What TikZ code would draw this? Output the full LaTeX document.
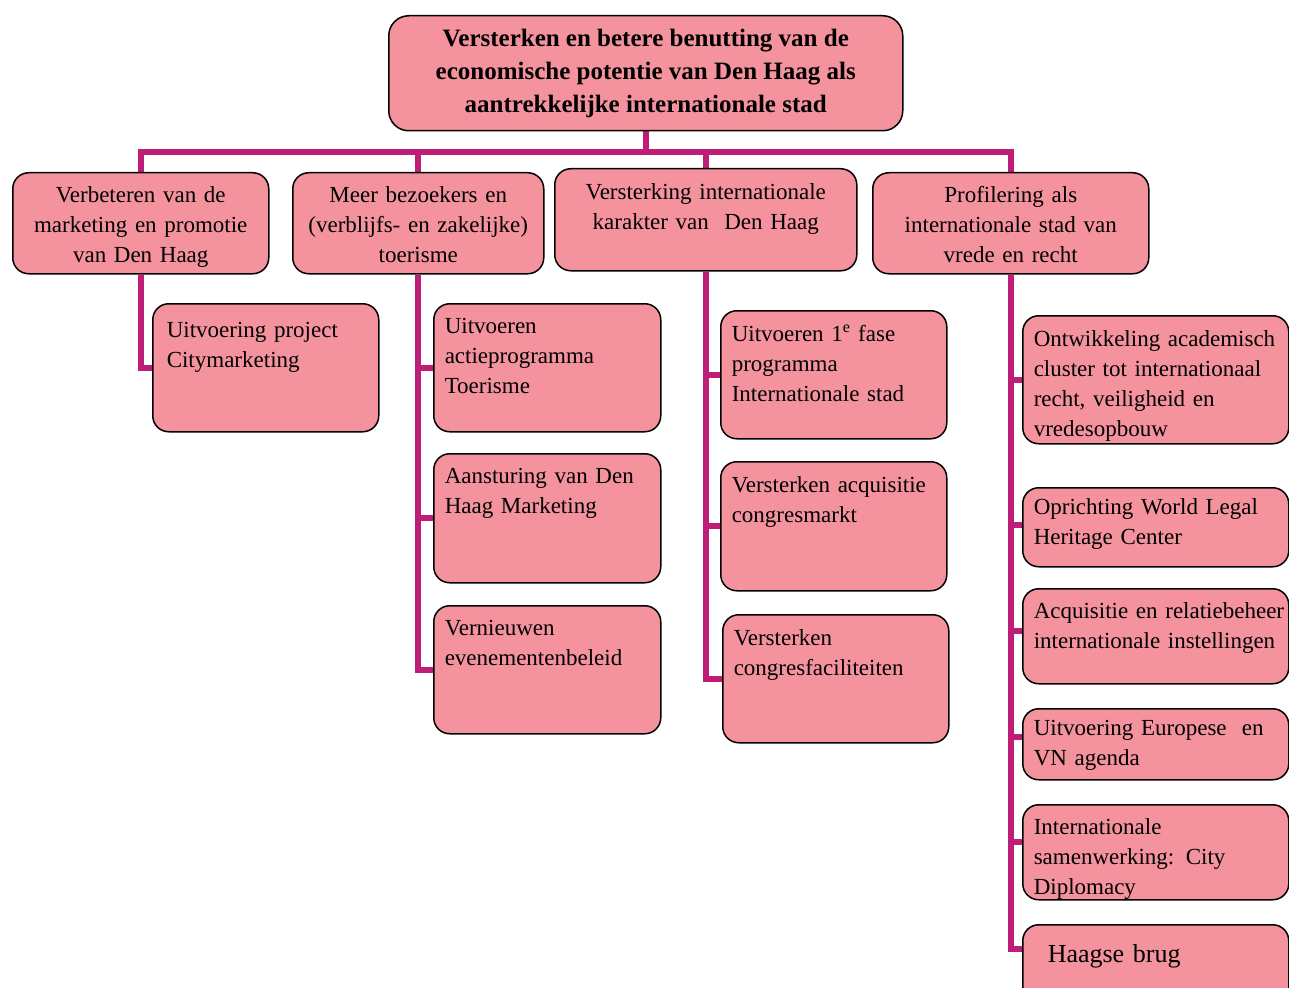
\documentclass[tikz,border=0pt]{standalone}
\usepackage{fontspec}
\setmainfont{Liberation Serif}
\usetikzlibrary{backgrounds}
\definecolor{boxpink}{RGB}{244,147,157}
\definecolor{linkmag}{RGB}{190,30,120}
\tikzset{
  box/.style={draw=black, line width=1.5pt, fill=boxpink, rounded corners=16pt,
    anchor=north west, inner ysep=0pt, inner xsep=11pt, font=\fontsize{23}{30}\selectfont},
  goal/.style={box, align=center},
  task/.style={box, align=left},
  link/.style={draw=linkmag, line width=6pt},
}
\begin{document}
\begin{tikzpicture}[x=1pt, y=-1pt]
\useasboundingbox (0,0) rectangle (1289,987);
\clip (0,0) rectangle (1289,987);
% hoofddoel
\node[box, align=center, inner sep=0pt, rounded corners=20pt, minimum width=514pt, minimum height=115pt,
  font=\fontsize{25}{33}\selectfont\bfseries] (top) at (388,15)
  {Versterken en betere benutting van de\\economische potentie van Den Haag als\\aantrekkelijke internationale stad};
% subdoelen
\node[goal, text width=234pt, text height=30pt, text depth=71pt] (A) at (12,172) {Verbeteren van de\\marketing en promotie\\van Den Haag};
\node[goal, text width=229pt, text height=30pt, text depth=71pt] (B) at (292,172) {Meer bezoekers en\\(verblijfs- en zakelijke)\\toerisme};
\node[goal, text width=280pt, text height=31pt, text depth=71pt] (C) at (554,168) {Versterking internationale\\karakter van\ \ Den Haag};
\node[goal, text width=254pt, text height=30pt, text depth=71pt] (D) at (872,172) {Profilering als\\internationale stad van\\vrede en recht};
% projecten
\node[task, inner xsep=14pt, text width=198pt, text height=34pt, text depth=94pt] (A1) at (152,303) {Uitvoering project\\Citymarketing};
\node[task, text width=205pt, text height=30pt, text depth=98pt] (B1) at (433,303) {Uitvoeren\\actieprogramma\\Toerisme};
\node[task, text width=205pt, text height=30pt, text depth=99pt] (B2) at (433,453) {Aansturing van Den\\Haag Marketing};
\node[task, text width=205pt, text height=30pt, text depth=98pt] (B3) at (433,605) {Vernieuwen\\evenementenbeleid};
\node[task, text width=204pt, text height=31pt, text depth=97pt] (C1) at (720,310) {Uitvoeren 1\textsuperscript{e} fase\\programma\\Internationale stad};
\node[task, text width=204pt, text height=31pt, text depth=98pt] (C2) at (720,461) {Versterken acquisitie\\congresmarkt};
\node[task, text width=204pt, text height=31pt, text depth=97pt] (C3) at (722,614) {Versterken\\congresfaciliteiten};
\node[task, text width=244pt, text height=31pt, text depth=97pt] (D1) at (1022,315) {Ontwikkeling academisch\\cluster tot internationaal\\recht, veiligheid en\\vredesopbouw};
\node[task, text width=244pt, text height=27pt, text depth=52pt] (D2) at (1022,487) {Oprichting World Legal\\Heritage Center};
\node[task, text width=244pt, text height=30pt, text depth=65pt] (D3) at (1022,588) {\mbox{Acquisitie en relatiebeheer}\\internationale instellingen};
\node[task, text width=244pt, text height=27pt, text depth=44pt] (D4) at (1022,708) {Uitvoering Europese\ \ en\\VN agenda};
\node[task, text width=244pt, text height=30pt, text depth=65pt] (D5) at (1022,804) {Internationale\\samenwerking: City\\Diplomacy};
\node[task, inner xsep=25pt, text width=216pt, text height=38pt, text depth=52pt,
  font=\fontsize{26}{30}\selectfont] (D6) at (1022,924) {Haagse brug};
% verbindingen
\begin{scope}[on background layer]
\draw[link] (top.south) -- ++(0,21) -| (A.north);
\draw[link] (top.south) -- ++(0,21) -| (B.north);
\draw[link] (top.south) -- ++(0,21) -| (C.north);
\draw[link] (top.south) -- ++(0,21) -| (D.north);
\draw[link] (A.south) |- (A1.west);
\draw[link] (B.south) |- (B1.west);
\draw[link] (B.south) |- (B2.west);
\draw[link] (B.south) |- (B3.west);
\draw[link] (C.south) |- (C1.west);
\draw[link] (C.south) |- (C2.west);
\draw[link] (C.south) |- (C3.west);
\draw[link] (D.south) |- (D1.west);
\draw[link] (D.south) |- ([yshift=2pt]D2.west);
\draw[link] (D.south) |- ([yshift=5pt]D3.west);
\draw[link] (D.south) |- ([yshift=7pt]D4.west);
\draw[link] (D.south) |- ([yshift=10pt]D5.west);
\draw[link] (D.south) |- ([yshift=21pt]D6.west);
\end{scope}
\end{tikzpicture}
\end{document}
